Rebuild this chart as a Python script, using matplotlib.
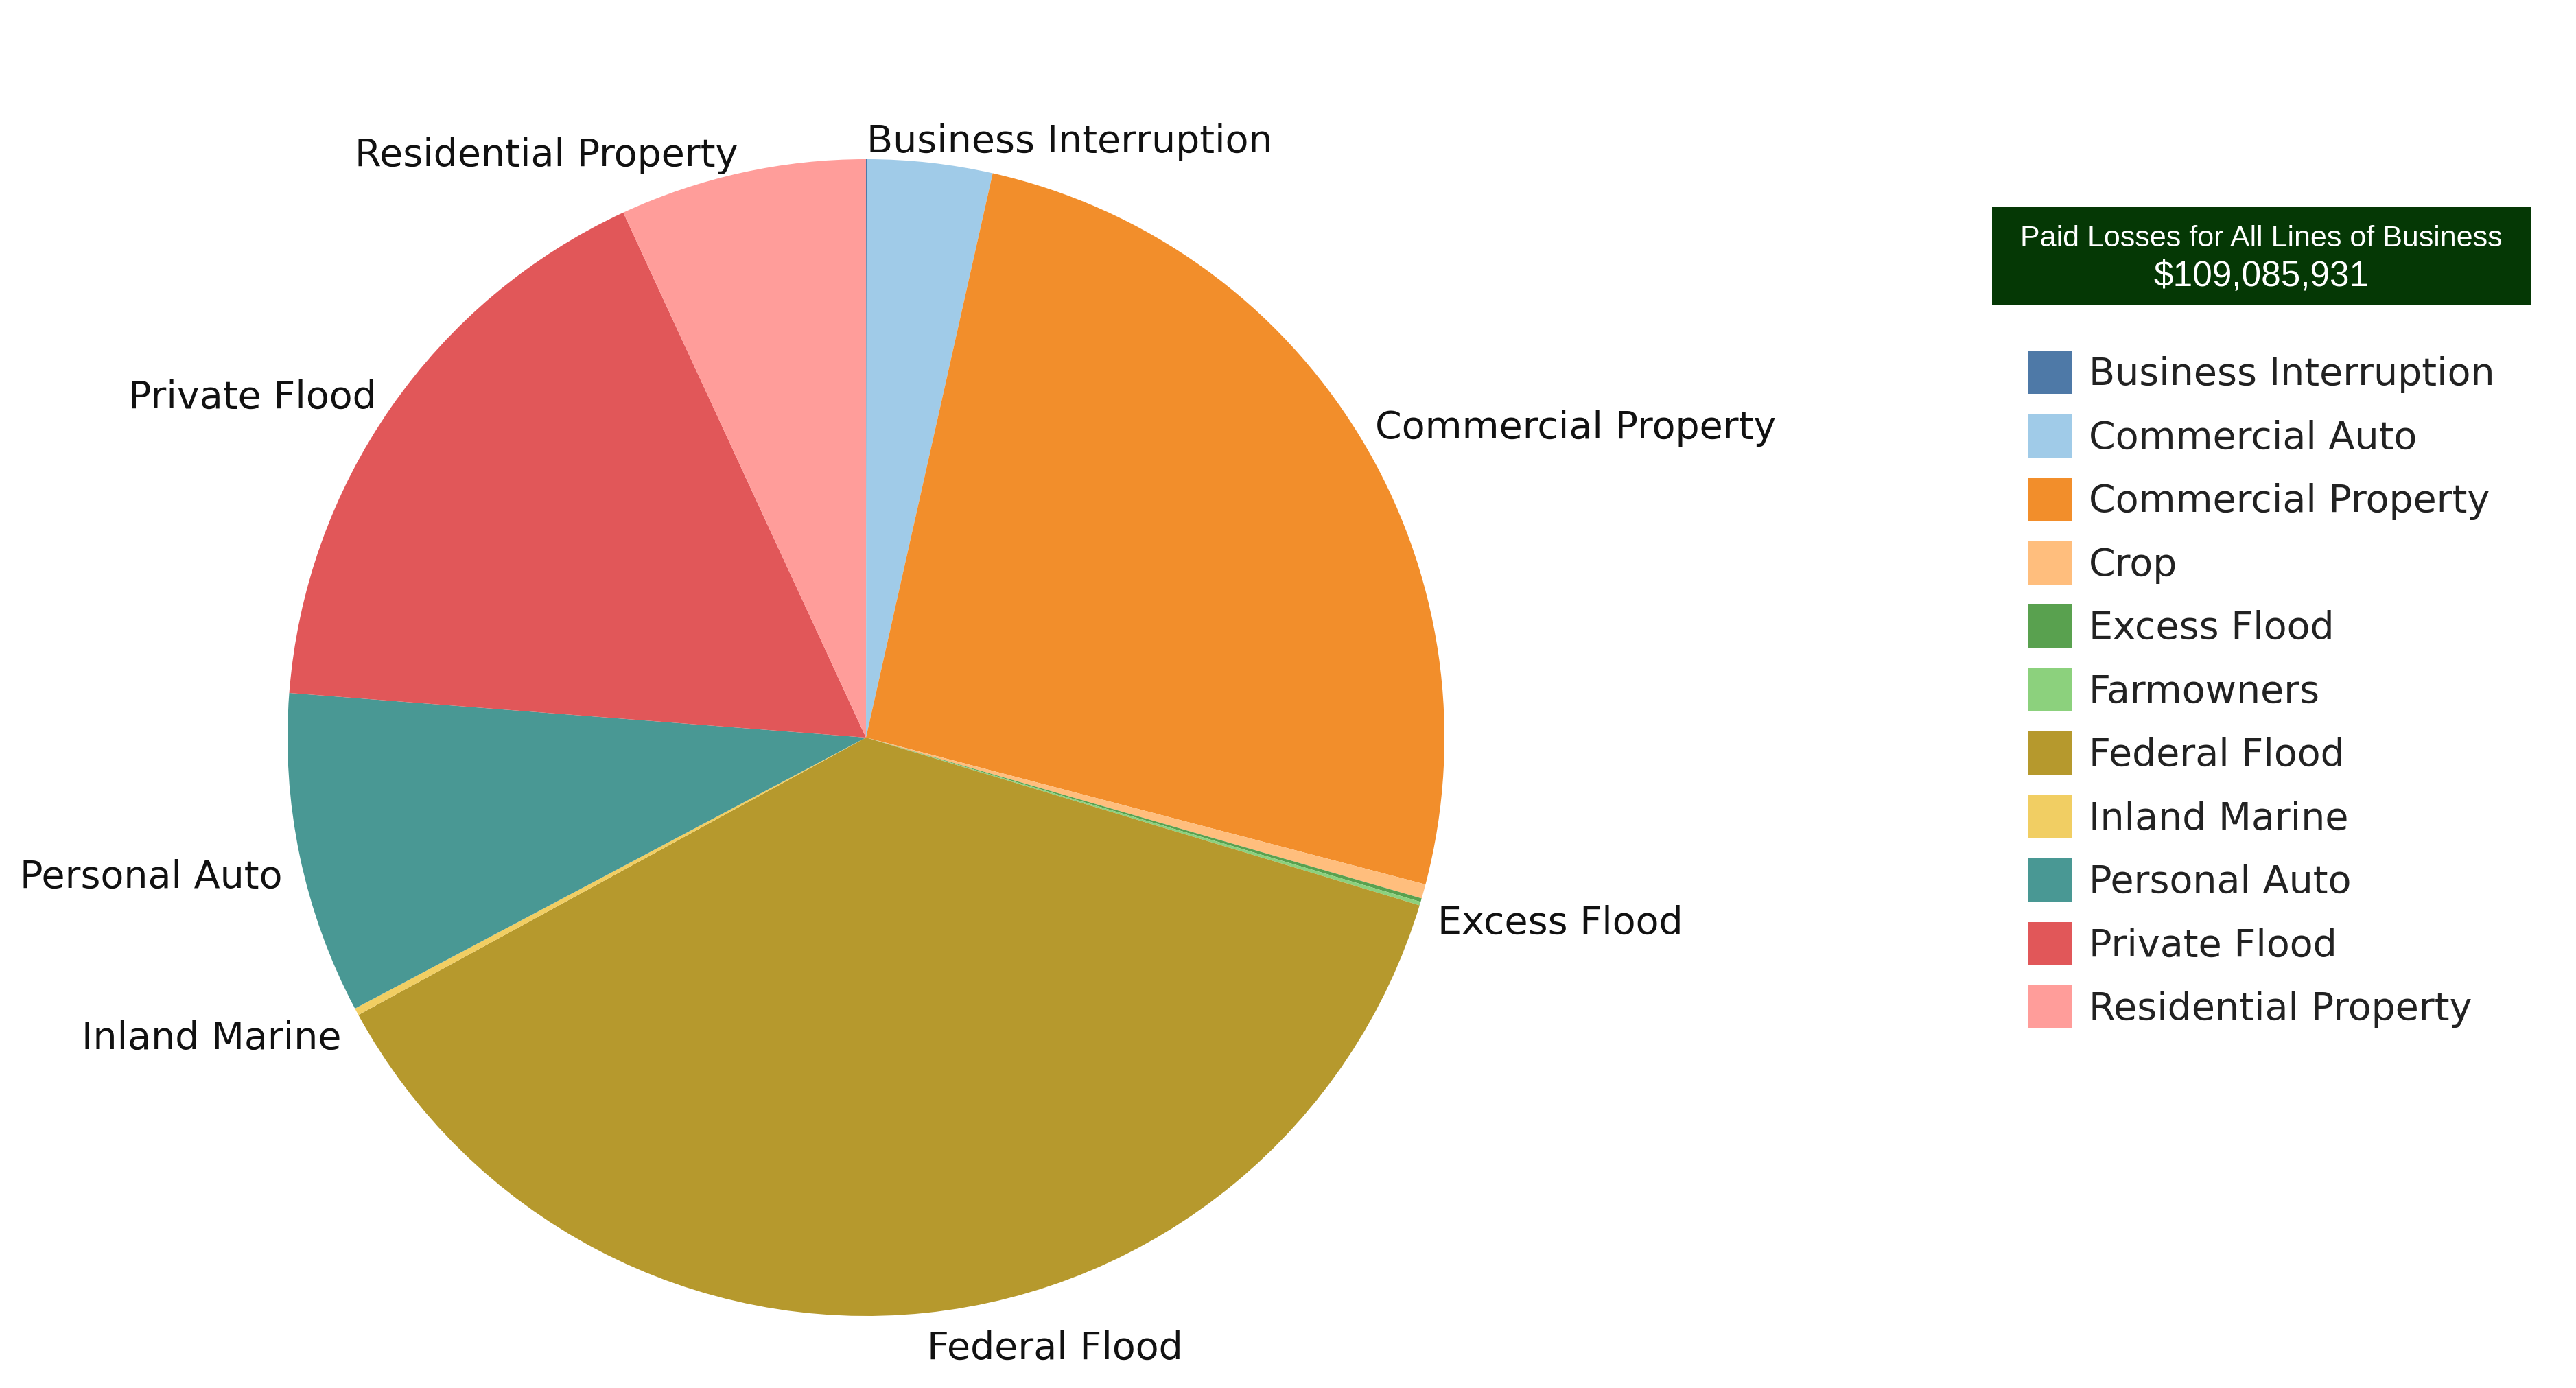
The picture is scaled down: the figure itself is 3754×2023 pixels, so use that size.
import matplotlib
matplotlib.use("Agg")
import matplotlib.pyplot as plt
from matplotlib.patches import Rectangle

# ---- data (share of paid losses, %) ----
categories = ["Business Interruption", "Commercial Auto", "Commercial Property", "Crop",
              "Excess Flood", "Farmowners", "Federal Flood", "Inland Marine",
              "Personal Auto", "Private Flood", "Residential Property"]
share_pct = [0.02, 3.5, 25.6, 0.4, 0.1, 0.1, 37.4, 0.2, 9.0, 16.9, 6.9]
# labels drawn next to the pie (some small slices are unlabeled in the source)
slice_labels = ["Business Interruption", "", "Commercial Property", "",
                "Excess Flood", "", "Federal Flood", "Inland Marine",
                "Personal Auto", "Private Flood", "Residential Property"]
colors = ["#4e79a7", "#a0cbe8", "#f28e2b", "#ffbe7d", "#59a14f", "#8cd17d",
          "#b6992d", "#f1ce63", "#499894", "#e15759", "#ff9d9a"]
box_title = "Paid Losses for All Lines of Business"
box_total = "$109,085,931"

W, H = 3755, 2023
fig = plt.figure(figsize=(W / 100, H / 100), dpi=100)
fig.patch.set_facecolor("white")

cx, cy, r = 1262, 1075, 843
ax = fig.add_axes([(cx - r) / W, (H - cy - r) / H, 2 * r / W, 2 * r / H])
wedges, texts = ax.pie(share_pct, labels=slice_labels, colors=colors, startangle=90,
                       counterclock=False, labeldistance=1.03,
                       wedgeprops=dict(linewidth=0),
                       textprops=dict(fontsize=40, color="#111111", family="DejaVu Sans"))
# labels below the centre hang from their anchor point
for t in texts:
    if t.get_position()[1] < 0:
        t.set_va("top")
ax.set_xlim(-1, 1)
ax.set_ylim(-1, 1)
ax.set_aspect("equal")
ax.axis("off")

# header box
bx0, by0, bx1, by1 = 2903, 302, 3688, 445
fig.patches.append(Rectangle((bx0 / W, 1 - by1 / H), (bx1 - bx0) / W, (by1 - by0) / H,
                             transform=fig.transFigure, facecolor="#053805",
                             edgecolor="none"))
fam = ["Liberation Sans Narrow", "Liberation Sans", "DejaVu Sans"]
fig.text((bx0 + bx1) / 2 / W, 1 - 348 / H, box_title, ha="center", va="center",
         color="white", fontsize=31, family=fam)
fig.text((bx0 + bx1) / 2 / W, 1 - 403 / H, box_total, ha="center", va="center",
         color="white", fontsize=37, family=fam)

leg = fig.legend(wedges, categories, loc="upper left",
                 bbox_to_anchor=(2955 / W, 1 - 511 / H), frameon=False,
                 prop=dict(family="DejaVu Sans", size=40),
                 handlelength=1.15, handleheight=1.37, labelspacing=0.53,
                 handletextpad=0.45, borderpad=0, borderaxespad=0)
for t in leg.get_texts():
    t.set_color("#222222")

fig.savefig("out.png", dpi=100, facecolor="white")
